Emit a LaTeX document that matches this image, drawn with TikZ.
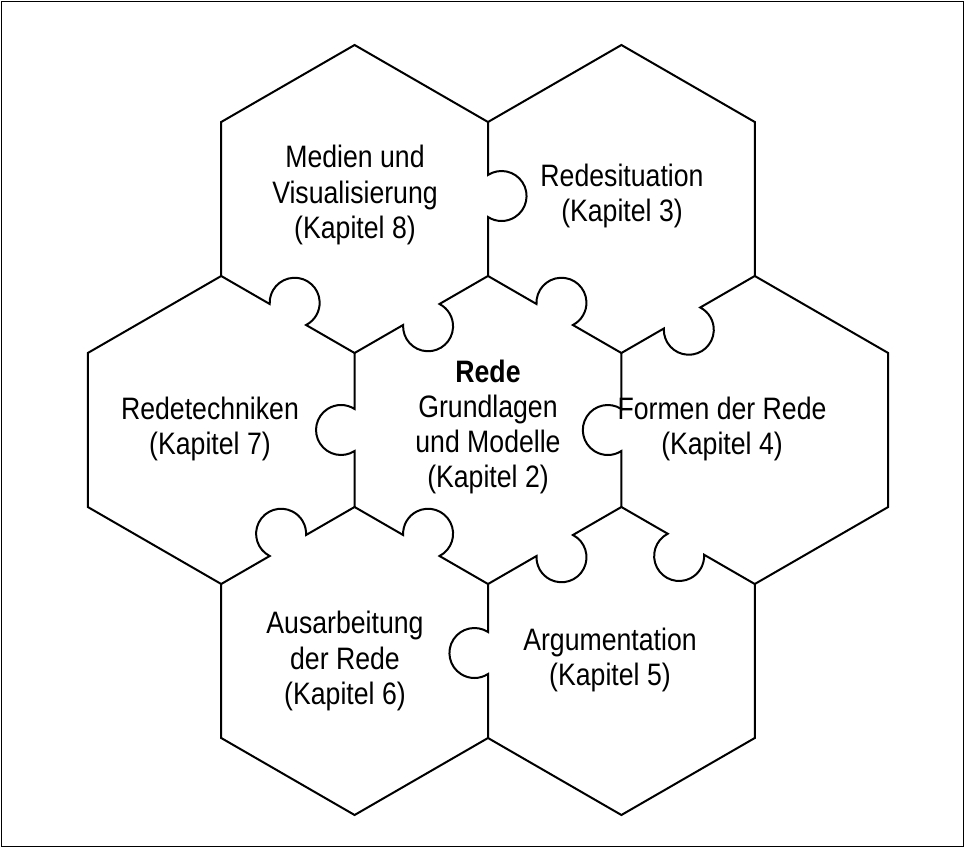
\documentclass[tikz,border=0pt]{standalone}
\usepackage{fontspec}
\setmainfont{Liberation Sans}[FakeStretch=0.86]
\newcommand\kedgeL[3]{\draw[hexline,shift={(#1)},rotate=#2] (0,0) -- ({77+#3-21},0) arc[start angle=212.85,end angle=-32.85,radius=12.5pt] -- (154,0);}
\newcommand\kedgeR[3]{\draw[hexline,shift={(#1)},rotate=#2] (0,0) -- ({77+#3-21},0) arc[start angle=147.15,end angle=392.85,radius=12.5pt] -- (154,0);}
\begin{document}
\begin{tikzpicture}[x=0.5pt,y=0.5pt,
  hexline/.style={line width=1pt, line join=miter, black},
  hexlabel/.style={align=center, font=\fontsize{15.5}{17.6}\selectfont, inner sep=0pt}]
\useasboundingbox (0,0) rectangle (965,848);
\draw[line width=0.75pt] (1.5,1.5) rectangle (963.5,846.5);
% outer vertices
\coordinate (o1) at (221.2,726);
\coordinate (o2) at (354.6,803);
\coordinate (o3) at (488,726);
\coordinate (o4) at (621.4,803);
\coordinate (o5) at (754.8,726);
\coordinate (o6) at (754.8,572);
\coordinate (o7) at (888.2,495);
\coordinate (o8) at (888.2,341);
\coordinate (o9) at (754.8,264);
\coordinate (o10) at (754.8,110);
\coordinate (o11) at (621.4,33);
\coordinate (o12) at (488,110);
\coordinate (o13) at (354.6,33);
\coordinate (o14) at (221.2,110);
\coordinate (o15) at (221.2,264);
\coordinate (o16) at (87.8,341);
\coordinate (o17) at (87.8,495);
\coordinate (o18) at (221.2,572);
% central vertices
\coordinate (c1) at (488,572);
\coordinate (c2) at (621.4,495);
\coordinate (c3) at (621.4,341);
\coordinate (c4) at (488,264);
\coordinate (c5) at (354.6,341);
\coordinate (c6) at (354.6,495);
% outer boundary
\draw[hexline] (o1) -- (o2) -- (o3) -- (o4) -- (o5) -- (o6) -- (o7) -- (o8) -- (o9)
  -- (o10) -- (o11) -- (o12) -- (o13) -- (o14) -- (o15) -- (o16) -- (o17) -- (o18) -- cycle;
% central hexagon edges with knobs
\kedgeR{c6}{30}{0}
\kedgeL{c1}{-30}{0}
\kedgeR{c2}{-90}{0}
\kedgeL{c3}{210}{0}
\kedgeR{c4}{150}{0}
\kedgeL{c5}{90}{0}
% radial edges with knobs
\kedgeL{o3}{-90}{-3}
\kedgeR{c2}{30}{-7}
\kedgeR{c3}{-30}{-2.5}
\kedgeR{c4}{-90}{-8}
\kedgeL{o15}{30}{0}
\kedgeL{o18}{-30}{0}
% labels
\node[hexlabel] (medien) at (355,653) {Medien und\\Visualisierung\\(Kapitel 8)};
\node[hexlabel] (redesit) at (622,652) {Redesituation\\(Kapitel 3)};
\node[hexlabel] (rede) at (488,421) {\textbf{Rede}\\Grundlagen\\und Modelle\\(Kapitel 2)};
\node[hexlabel] (redetech) at (210,419) {Redetechniken\\(Kapitel 7)};
\node[hexlabel] (formen) at (722,419) {Formen der Rede\\(Kapitel 4)};
\node[hexlabel] (argu) at (610,188) {Argumentation\\(Kapitel 5)};
\node[hexlabel] (ausarb) at (345,187) {Ausarbeitung\\der Rede\\(Kapitel 6)};
\end{tikzpicture}
\end{document}
